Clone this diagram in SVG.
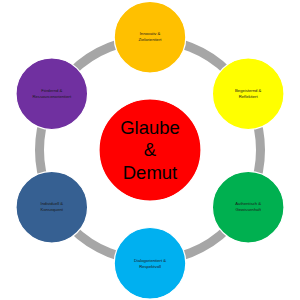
<svg xmlns="http://www.w3.org/2000/svg" width="300" height="300" viewBox="0 0 300 300">
<style>
.node{stroke:#ffffff;stroke-width:1.2}
.lbl{font-family:"Liberation Sans",Arial,sans-serif;font-size:4.2px;fill:#1a1a1a;text-anchor:middle}
.big{font-family:"Liberation Sans",Arial,sans-serif;font-size:18.5px;fill:#000000;text-anchor:middle}
</style>
<rect width="300" height="300" fill="#ffffff"/>
<g id="connectors">
<circle cx="150" cy="150" r="110.5" fill="none" stroke="#a6a6a6" stroke-width="9"/>
</g>
<g id="center">
<circle class="node" cx="150" cy="150" r="51" fill="#ff0000"/>
<text class="big" x="150" y="133.5">Glaube</text>
<text class="big" x="150" y="156">&amp;</text>
<text class="big" x="150" y="178.5">Demut</text>
</g>
<g id="n1">
<circle class="node" cx="150" cy="37.2" r="35.8" fill="#ffc000"/>
<text class="lbl" x="150" y="35.4">Innovativ &amp;</text>
<text class="lbl" x="150" y="41.4">Zielorientiert</text>
</g>
<g id="n2">
<circle class="node" cx="248.2" cy="93.7" r="35.8" fill="#ffff00"/>
<text class="lbl" x="248.2" y="91.9">Begeisternd &amp;</text>
<text class="lbl" x="248.2" y="97.9">Reflektiert</text>
</g>
<g id="n3">
<circle class="node" cx="248.2" cy="207.2" r="35.8" fill="#00b050"/>
<text class="lbl" x="248.2" y="205.4">Authentisch &amp;</text>
<text class="lbl" x="248.2" y="211.4">Gewissenhaft</text>
</g>
<g id="n4">
<circle class="node" cx="150" cy="263.3" r="35.8" fill="#00b0f0"/>
<text class="lbl" x="150" y="261.5">Dialogorientiert &amp;</text>
<text class="lbl" x="150" y="267.5">Respektvoll</text>
</g>
<g id="n5">
<circle class="node" cx="51.8" cy="207.2" r="35.8" fill="#366092"/>
<text class="lbl" x="51.8" y="205.4">Individuell &amp;</text>
<text class="lbl" x="51.8" y="211.4">Konsequent</text>
</g>
<g id="n6">
<circle class="node" cx="51.8" cy="93.7" r="35.8" fill="#7030a0"/>
<text class="lbl" x="51.8" y="91.9">Fördernd &amp;</text>
<text class="lbl" x="51.8" y="97.9">Ressourcenorientiert</text>
</g>
</svg>
